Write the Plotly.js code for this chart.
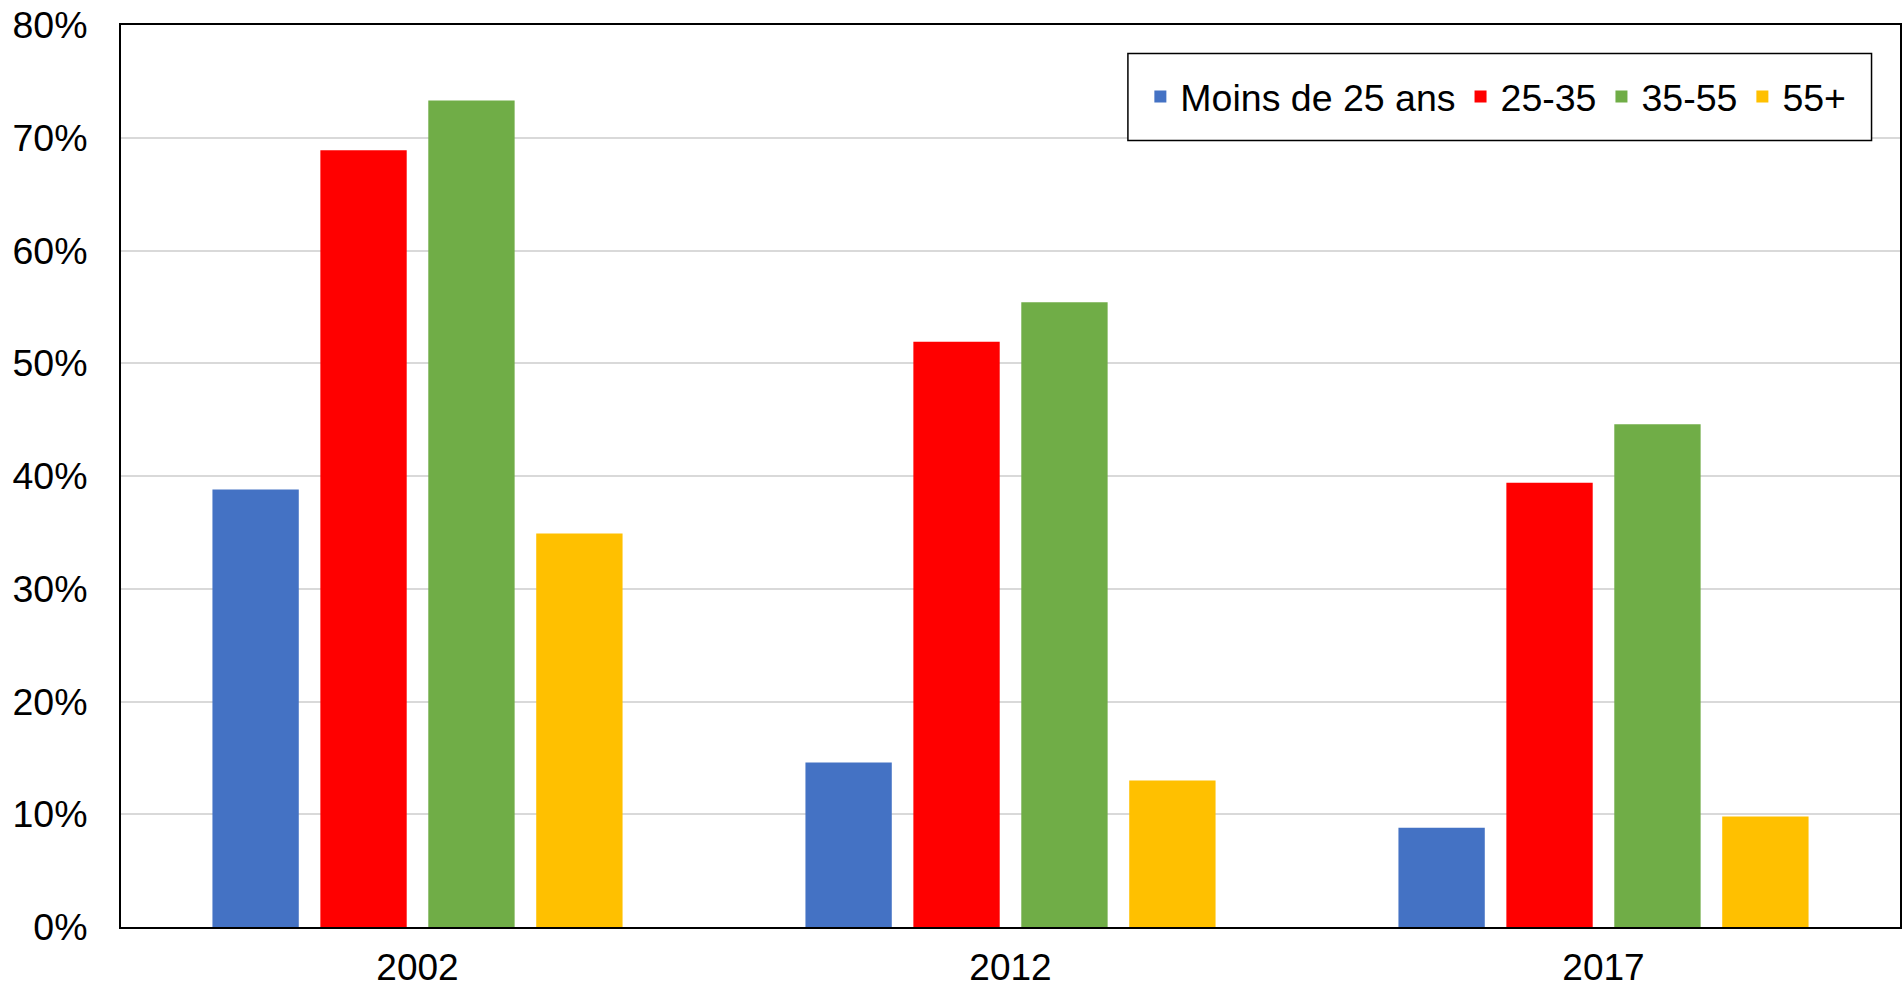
<!DOCTYPE html>
<html>
<head>
<meta charset="utf-8">
<script src="https://cdn.plot.ly/plotly-3.0.1.min.js"></script>
<style>
  html, body { margin: 0; padding: 0; background: #ffffff; }
  #chart { width: 1903px; height: 990px; }
</style>
</head>
<body>
<div id="chart"></div>
<script>
const categories = ["2002", "2012", "2017"];
const seriesNames = ["Moins de 25 ans", "25-35", "35-55", "55+"];
const moins25 = [0.388, 0.146, 0.088];
const age25_35 = [0.689, 0.519, 0.394];
const age35_55 = [0.733, 0.554, 0.446];
const age55plus = [0.349, 0.130, 0.098];
const yTickVals = [0, 0.1, 0.2, 0.3, 0.4, 0.5, 0.6, 0.7, 0.8];
const yTickText = ["0%", "10%", "20%", "30%", "40%", "50%", "60%", "70%", "80%"];

const colors = ["#4472C4", "#FF0000", "#70AD47", "#FFC000"];
const values = [moins25, age25_35, age35_55, age55plus];

const traces = seriesNames.map((name, i) => ({
  type: "bar",
  name: name,
  x: categories,
  y: values[i],
  marker: { color: colors[i], line: { width: 0 } },
  hoverinfo: "none"
}));

const FONT = "Liberation Sans, Arial, sans-serif";
const FS = 37.5;

const layout = {
  width: 1903,
  height: 990,
  margin: { l: 121, r: 3, t: 25, b: 63, pad: 0 },
  paper_bgcolor: "#ffffff",
  plot_bgcolor: "#ffffff",
  barmode: "group",
  bargap: 0.272,
  bargroupgap: 0.2,
  font: { family: FONT, size: FS, color: "#000000" },
  showlegend: true,
  legend: {
    orientation: "h",
    x: 0.573,
    xanchor: "left",
    y: 0.955,
    yanchor: "top",
    bgcolor: "rgba(255,255,255,0)",
    borderwidth: 0,
    font: { family: FONT, size: FS, color: "#000000" },
    traceorder: "normal"
  },
  shapes: [{
    type: "rect",
    xref: "paper", yref: "paper",
    x0: 0.566, x1: 0.984, y0: 0.872, y1: 0.9685,
    line: { color: "#000000", width: 1.5 },
    fillcolor: "#ffffff",
    layer: "above"
  }],
  xaxis: {
    type: "category",
    showgrid: false,
    showline: true,
    linecolor: "#000000",
    linewidth: 2,
    mirror: true,
    ticks: "outside",
    ticklen: 7,
    tickcolor: "rgba(0,0,0,0)",
    tickfont: { family: FONT, size: 37, color: "#000000" },
    zeroline: false
  },
  yaxis: {
    range: [0, 0.8],
    tickvals: yTickVals,
    ticktext: yTickText,
    showgrid: true,
    gridcolor: "#d9d9d9",
    gridwidth: 2,
    showline: true,
    linecolor: "#000000",
    linewidth: 2,
    mirror: true,
    ticks: "outside",
    ticklen: 24,
    tickcolor: "rgba(0,0,0,0)",
    tickfont: { family: FONT, size: FS, color: "#000000" },
    zeroline: false
  }
};

Plotly.newPlot("chart", traces, layout, { staticPlot: true, displayModeBar: false });
</script>
</body>
</html>
